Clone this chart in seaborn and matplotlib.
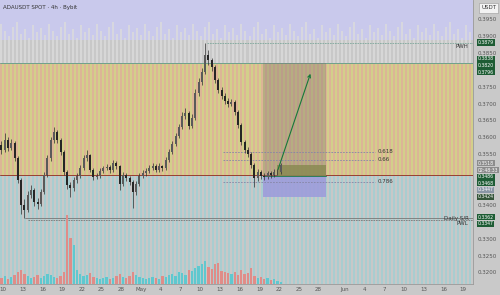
import numpy as np
import pandas as pd
import seaborn as sns
import matplotlib.pyplot as plt
import matplotlib.transforms as mtransforms

# 12h candles from Apr 9 (day -0.5) to May 22, day 0 = Apr 10
first_open = 0.3577
closes = [.3563, .3592, .3568, .3583, .3539, .3474, .3400, .3385, .3429, .3444,
          .3409, .3403, .3438, .3489, .3539, .3592, .3616, .3592, .3557, .3497,
          .3459, .3450, .3474, .3486, .3509, .3539, .3548, .3503, .3483, .3486,
          .3500, .3509, .3512, .3503, .3524, .3515, .3462, .3489, .3480, .3468,
          .3438, .3462, .3486, .3494, .3500, .3509, .3515, .3503, .3515, .3509,
          .3533, .3557, .3580, .3604, .3631, .3663, .3672, .3634, .3657, .3731,
          .3764, .3793, .3844, .3829, .3808, .3770, .3740, .3722, .3708, .3699,
          .3705, .3675, .3637, .3586, .3563, .3551, .3518, .3480, .3497, .3486,
          .3483, .3494, .3489, .3497, .3497, .3518]
highs = [.3590, .3613, .3600, .3595, .3588, .3545, .3480, .3418, .3440, .3458,
         .3450, .3420, .3447, .3498, .3548, .3601, .3631, .3622, .3598, .3562,
         .3504, .3468, .3482, .3495, .3517, .3548, .3563, .3552, .3510, .3495,
         .3509, .3516, .3521, .3518, .3533, .3530, .3519, .3497, .3494, .3486,
         .3474, .3470, .3493, .3502, .3508, .3517, .3524, .3520, .3523, .3519,
         .3541, .3566, .3589, .3612, .3640, .3675, .3687, .3678, .3668, .3742,
         .3776, .3806, .3879, .3858, .3836, .3815, .3777, .3750, .3730, .3716,
         .3714, .3710, .3681, .3642, .3592, .3572, .3556, .3524, .3506, .3503,
         .3494, .3501, .3500, .3505, .3506, .3524]
lows = [.3552, .3556, .3560, .3562, .3530, .3465, .3372, .3361, .3378, .3420,
        .3398, .3388, .3397, .3432, .3482, .3530, .3584, .3583, .3548, .3488,
        .3447, .3423, .3441, .3466, .3480, .3503, .3531, .3496, .3474, .3476,
        .3480, .3494, .3502, .3495, .3498, .3507, .3444, .3455, .3472, .3459,
        .3391, .3430, .3455, .3479, .3487, .3493, .3503, .3496, .3497, .3501,
        .3504, .3527, .3550, .3573, .3597, .3624, .3655, .3625, .3628, .3650,
        .3722, .3755, .3786, .3815, .3797, .3760, .3731, .3712, .3698, .3690,
        .3692, .3666, .3628, .3577, .3554, .3543, .3508, .3453, .3471, .3478,
        .3475, .3477, .3481, .3483, .3488, .3490]
volumes = [6, 8, 5, 7, 9, 12, 14, 10, 8, 6, 7, 9, 6, 8, 10, 9, 7, 6, 8, 12,
           68, 45, 38, 14, 10, 8, 9, 11, 7, 6, 5, 6, 7, 5, 6, 8, 10, 7, 6, 8,
           12, 9, 7, 6, 5, 6, 7, 6, 5, 8, 7, 9, 10, 8, 12, 11, 9, 14, 13, 16,
           18, 20, 23, 17, 15, 20, 21, 13, 12, 11, 10, 12, 9, 14, 10, 11, 16, 8, 6, 7,
           5, 6, 4, 5, 3, 2]

tick_days = [0, 3, 6, 9, 12, 15, 18, 21, 24, 27, 30, 33, 36, 39, 42, 45, 48,
             52, 55, 58, 61, 64, 67, 70]
tick_labels = ["10", "13", "16", "19", "22", "25", "28", "May", "4", "7", "10",
               "13", "16", "19", "22", "25", "28", "Jun", "4", "7", "10", "13",
               "16", "19"]
# scale labels left visible (the others sit under price boxes)
price_ticks = [0.3950, 0.3900, 0.3850, 0.3750, 0.3700, 0.3650, 0.3600,
               0.3550, 0.3400, 0.3300, 0.3250, 0.3200]

# levels
zone_top, zone_bottom = 0.3820, 0.3489
pwh, daily_sr, pwl = 0.3879, 0.3362, 0.3354
fib_vals = [0.3557, 0.3533, 0.3468]
fib_names = ["0.618", "0.66", "0.786"]
entry, target, stop, last_price = 0.3486, 0.3820, 0.3424, 0.3518

axis_labels = [(0.3881, "0.3879", "#1d5c34"), (0.3832, "0.3838", "#1d5c34"),
               (0.3813, "0.3820", "#1d5c34"), (0.3793, "0.3796", "#1d5c34"),
               (0.3524, "0.3518", "#8c8c8c"), (0.3503, "02:48:33", "#8c8c8c"),
               (0.3483, "0.3486", "#1d5c34"), (0.3464, "0.3468", "#1d5c34"),
               (0.3445, "0.3447", "#8a96a6"), (0.3424, "0.3424", "#34553a"),
               (0.3364, "0.3362", "#1d5c34"), (0.3344, "0.3347", "#1d5c34")]

sns.set_theme(style="white")
plt.rcParams['font.family'] = ['DejaVu Sans']

px = 0.000296          # price per pixel
y_hi = 0.40065
y_lo = y_hi - 284 * px
x_lo, x_hi = -0.46, 71.5

df = pd.DataFrame({"c": closes, "h": highs, "l": lows, "vol": volumes})
df["o"] = [first_open] + closes[:-1]
df["t"] = np.arange(len(df)) * 0.5 - 0.25
df["dir"] = np.where(df["c"] >= df["o"], "up", "down")

fig = plt.figure(figsize=(5, 2.95), dpi=100, facecolor="#c9c9c9")
ax = fig.add_axes([0, 11 / 295, 473 / 500, 284 / 295])
ax.set_facecolor("#c8c8c8")
ax.set_xlim(x_lo, x_hi)
ax.set_ylim(y_lo, y_hi)

# background bands and stripes
ax.axhspan(y_hi - 40 * px, y_hi, color="#c9c9ec", lw=0, zorder=0)
ax.axhspan(zone_bottom, zone_top, color="#d3cf8a", lw=0, zorder=0)
xs = np.arange(x_lo + 0.2, x_hi, 0.609)
pattern = [24, 31, 36, 27, 22, 34, 29, 38, 25, 32, 28, 35]
tops = [y_hi - pattern[i % len(pattern)] * px for i in range(len(xs))]
ax.vlines(xs, zone_top, tops, colors="#dcdcdc", lw=1.1, zorder=1)
ax.vlines(xs, zone_bottom, zone_top, colors="#e3a3a0", lw=1.1, alpha=0.75, zorder=1)
ax.vlines(xs, y_lo, zone_bottom, colors="#90d2d8", lw=1.1, alpha=0.7, zorder=1)
ax.axhline(zone_top, color="#5f9c8c", lw=0.6, zorder=2)
ax.axhline(zone_bottom, color="#98402e", lw=0.7, zorder=2)

# long position tool
x_a, x_b, x_now = 39.57, 49.16, 41.7
ax.fill_between([x_a, x_b], entry, target, color="#807272", alpha=0.35, lw=0, zorder=2)
ax.fill_between([x_a, x_b], stop, entry, color="#9d9ddb", alpha=0.9, lw=0, zorder=2)
ax.fill_between([x_now, x_b], entry, last_price, color="#8a8a52", alpha=0.85, lw=0, zorder=3)
ax.plot([x_a, x_b], [entry, entry], color="#2c7d5c", lw=0.7, zorder=3)
ax.annotate("", xy=(46.9, 0.3796), xytext=(x_now, 0.3497),
            arrowprops=dict(arrowstyle="->", color="#16783a", lw=0.8,
                            mutation_scale=5), zorder=7)

# horizontal levels
ax.plot([31.05, x_hi], [pwh, pwh], color="#7fa89c", lw=0.6, ls=(0, (2, 1)), zorder=3)
ax.text(70.8, pwh - 1.2 * px, "PWH", fontsize=4, color="#333333", ha="right", va="top")
ax.plot([3.3, x_hi], [daily_sr, daily_sr], color="#777777", lw=0.6, zorder=3)
ax.plot([3.8, x_hi], [pwl, pwl], color="#777777", lw=0.6, ls=(0, (2, 1)), zorder=3)
ax.text(70.8, daily_sr - 0.5 * px, "Daily S/R", fontsize=4, color="#333333", ha="right", va="center")
ax.text(70.8, pwl - 3.5 * px, "PWL", fontsize=4, color="#333333", ha="right", va="center")
for v, name in zip(fib_vals, fib_names):
    ax.plot([33.5, 56.6], [v, v], color="#8585a5", lw=0.6, ls=(0, (2, 1.5)), zorder=3)
    ax.text(57.0, v, name, fontsize=4, color="#333333", va="center")

# volume
axv = fig.add_axes(ax.get_position(), sharex=ax)
axv.patch.set_visible(False)
sns.barplot(data=df, x="t", y="vol", hue="dir", native_scale=True, dodge=False,
            palette={"up": "#5fc8cf", "down": "#e08c88"}, errorbar=None,
            legend=False, width=0.7, linewidth=0, saturation=1, ax=axv, zorder=4)
axv.set_ylim(0, max(volumes) / 0.243)
axv.set_xlim(x_lo, x_hi)
axv.axis("off")

# candles
body_lo = np.minimum(df["o"], df["c"])
body_h = np.maximum(np.abs(df["c"] - df["o"]), 0.00015)
ax.vlines(df["t"], df["l"], df["h"], color="#2e2e2e", lw=0.5, zorder=5)
ax.bar(df["t"], body_h, bottom=body_lo, width=0.3,
       color=np.where(df["dir"] == "up", "#5a5a5a", "#262626"), lw=0, zorder=6)

# axes styling
ax.set_xticks(tick_days)
ax.set_xticklabels(tick_labels)
ax.yaxis.tick_right()
ax.set_yticks(price_ticks)
ax.set_yticklabels([f"{p:.4f}" for p in price_ticks])
ax.tick_params(axis="both", labelsize=4, colors="#555555", length=0, pad=2.5)
ax.tick_params(axis="y", pad=3)
for s in ["top", "left"]:
    ax.spines[s].set_visible(False)
for s in ["right", "bottom"]:
    ax.spines[s].set_color("#9a9a9a")
    ax.spines[s].set_linewidth(0.6)
ax.grid(False)

tr = mtransforms.blended_transform_factory(ax.transAxes, ax.transData)
for val, txt, col in axis_labels:
    ax.text(1.01, val, txt, transform=tr, fontsize=3.3, color="white", va="center",
            ha="left", clip_on=False, zorder=10,
            bbox=dict(boxstyle="square,pad=0.15", fc=col, ec="none"))

fig.text(0.006, 0.982, "ADAUSDT SPOT · 4h · Bybit", fontsize=4, color="#333333",
         ha="left", va="top")
fig.text(0.992, 0.982, "USDT", fontsize=4, color="#333333", ha="right", va="top",
         bbox=dict(boxstyle="square,pad=0.4", fc="#f2f2f2", ec="#999999", lw=0.4))

fig.savefig("out.png", dpi=100, facecolor=fig.get_facecolor())
